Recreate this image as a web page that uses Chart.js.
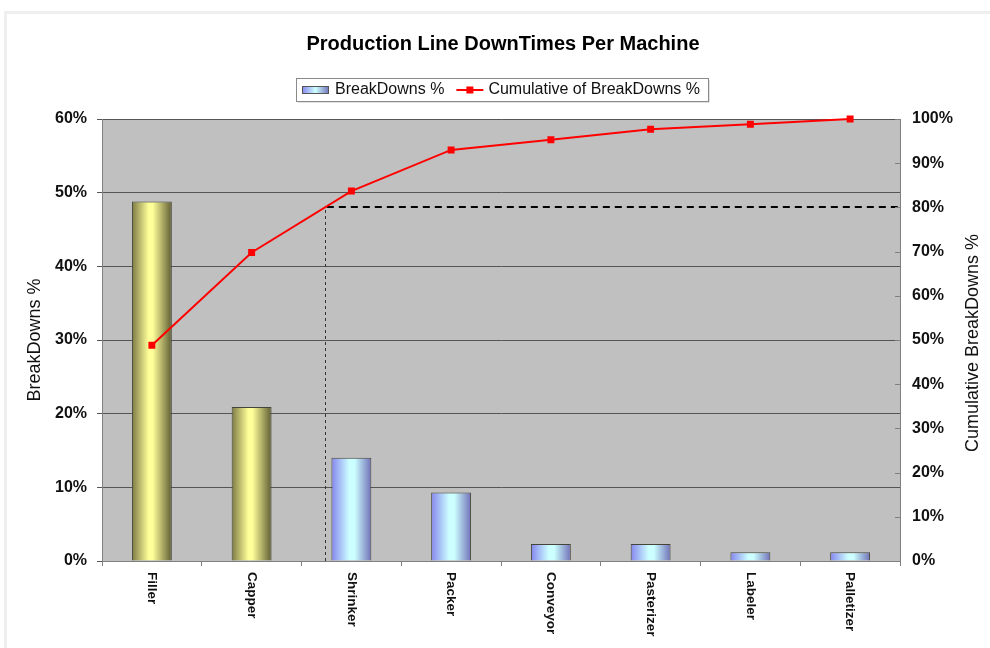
<!DOCTYPE html>
<html>
<head>
<meta charset="utf-8">
<script src="https://cdn.jsdelivr.net/npm/chart.js@4.4.0/dist/chart.umd.min.js"></script>
<style>
  html, body { margin: 0; padding: 0; background: #fff; }
  canvas { display: block; }
</style>
</head>
<body>
<canvas id="pareto" width="990" height="648"></canvas>
<script>
// values
const machines = ["Filler", "Capper", "Shrinker", "Packer", "Conveyor", "Pasterizer", "Labeler", "Palletizer"];
const breakdowns = [48.8, 20.9, 14.0, 9.3, 2.3, 2.3, 1.2, 1.2];
const cumulative = [48.8, 69.8, 83.7, 93.0, 95.3, 97.7, 98.8, 100];
const cutoff = 80;
const leftTicks = [0, 10, 20, 30, 40, 50, 60];
const rightTicks = [0, 10, 20, 30, 40, 50, 60, 70, 80, 90, 100];

const FONT = "'Liberation Sans', Arial, sans-serif";
const BAR_PCT = 0.4;

function barFill(ctx) {
  const chart = ctx.chart;
  if (!chart.chartArea || ctx.type !== "data") return "#ccc";
  const xs = chart.scales.x;
  const cx = xs.getPixelForValue(ctx.dataIndex);
  const half = (xs.getPixelForValue(1) - xs.getPixelForValue(0)) * BAR_PCT / 2;
  const g = chart.ctx.createLinearGradient(cx - half, 0, cx + half, 0);
  if (cumulative[ctx.dataIndex] <= cutoff) {
    g.addColorStop(0, "#7c7944");
    g.addColorStop(0.42, "#ffff99");
    g.addColorStop(0.52, "#ffff99");
    g.addColorStop(1, "#5f5d34");
  } else {
    g.addColorStop(0, "#8585ee");
    g.addColorStop(0.45, "#ccffff");
    g.addColorStop(0.58, "#ccffff");
    g.addColorStop(1, "#7070b8");
  }
  return g;
}

const decor = {
  id: "decor",
  beforeDraw(chart) {
    const { ctx, chartArea: a } = chart;
    ctx.save();
    ctx.fillStyle = "#fff";
    ctx.fillRect(0, 0, chart.width, chart.height);
    ctx.strokeStyle = "#efefef";
    ctx.lineWidth = 3;
    ctx.strokeRect(5.5, 12.5, 1100, 800);
    ctx.fillStyle = "#c0c0c0";
    ctx.fillRect(a.left, a.top, a.right - a.left, a.bottom - a.top);
    ctx.restore();
  },
  beforeDatasetsDraw(chart) {
    // 80% cut-off lines
    const { ctx, chartArea: a, scales } = chart;
    const i = cumulative.findIndex(v => v >= cutoff);
    if (i < 1) return;
    const x0 = scales.x.getPixelForValue(i - 1);
    const x1 = scales.x.getPixelForValue(i);
    const f = (cutoff - cumulative[i - 1]) / (cumulative[i] - cumulative[i - 1]);
    const xc = x0 + f * (x1 - x0);
    const yc = scales.y1.getPixelForValue(cutoff);
    ctx.save();
    ctx.strokeStyle = "#333";
    ctx.lineWidth = 1;
    ctx.setLineDash([3, 3]);
    ctx.beginPath();
    ctx.moveTo(Math.round(xc) + 0.5, a.bottom);
    ctx.lineTo(Math.round(xc) + 0.5, yc);
    ctx.stroke();
    ctx.strokeStyle = "#000";
    ctx.lineWidth = 2;
    ctx.setLineDash([7, 5]);
    ctx.beginPath();
    ctx.moveTo(xc + 2, Math.round(yc));
    ctx.lineTo(a.right, Math.round(yc));
    ctx.stroke();
    ctx.restore();
  },
  afterDraw(chart) {
    const { ctx, chartArea: a, scales } = chart;
    ctx.save();
    ctx.fillStyle = "#000";
    ctx.textBaseline = "middle";

    // title
    ctx.font = "bold 20px " + FONT;
    ctx.textAlign = "center";
    ctx.fillText("Production Line DownTimes Per Machine", 503, 44);

    // legend
    ctx.font = "16px " + FONT;
    const t1 = "BreakDowns %", t2 = "Cumulative of BreakDowns %";
    const w1 = ctx.measureText(t1).width, w2 = ctx.measureText(t2).width;
    const total = 6 + 27 + 6 + w1 + 12 + 27 + 5 + w2 + 8;
    const bx = Math.round(502 - total / 2), by = 78, bh = 23;
    ctx.fillStyle = "#e4e4e4";
    ctx.fillRect(bx + 2, by + 2, total, bh);
    ctx.fillStyle = "#fff";
    ctx.fillRect(bx, by, total, bh);
    ctx.strokeStyle = "#8a8a8a";
    ctx.lineWidth = 1;
    ctx.strokeRect(bx + 0.5, by + 0.5, total, bh);
    let x = bx + 6;
    const cy = by + bh / 2 + 0.5;
    const g = ctx.createLinearGradient(x, 0, x + 27, 0);
    g.addColorStop(0, "#8585ee");
    g.addColorStop(0.5, "#ccffff");
    g.addColorStop(1, "#7070b8");
    ctx.fillStyle = g;
    ctx.fillRect(x, cy - 4, 27, 8);
    ctx.strokeStyle = "#555";
    ctx.strokeRect(x + 0.5, cy - 3.5, 26, 7);
    x += 33;
    ctx.fillStyle = "#111";
    ctx.textAlign = "left";
    ctx.fillText(t1, x, cy);
    x += w1 + 12;
    ctx.strokeStyle = "#ff0000";
    ctx.lineWidth = 2;
    ctx.beginPath();
    ctx.moveTo(x, cy);
    ctx.lineTo(x + 27, cy);
    ctx.stroke();
    ctx.fillStyle = "#ff0000";
    ctx.fillRect(x + 10, cy - 3.5, 7, 7);
    x += 32;
    ctx.fillStyle = "#111";
    ctx.fillText(t2, x, cy);

    // axis titles
    ctx.font = "18px " + FONT;
    ctx.textAlign = "center";
    ctx.save();
    ctx.translate(35, (a.top + a.bottom) / 2);
    ctx.rotate(-Math.PI / 2);
    ctx.fillText("BreakDowns %", 0, 0);
    ctx.restore();
    ctx.save();
    ctx.translate(973, 343);
    ctx.rotate(-Math.PI / 2);
    ctx.fillText("Cumulative BreakDowns %", 0, 0);
    ctx.restore();

    // category labels, rotated clockwise
    ctx.font = "bold 13.5px " + FONT;
    ctx.textAlign = "left";
    machines.forEach((m, i) => {
      const px = scales.x.getPixelForValue(i);
      ctx.save();
      ctx.translate(px, a.bottom + 11);
      ctx.rotate(Math.PI / 2);
      ctx.fillText(m, 0, 0);
      ctx.restore();
    });

    // inward tick marks on the right axis
    ctx.strokeStyle = "#808080";
    ctx.lineWidth = 1;
    rightTicks.forEach(v => {
      const py = Math.round(scales.y1.getPixelForValue(v)) + 0.5;
      ctx.beginPath();
      ctx.moveTo(a.right - 5, py);
      ctx.lineTo(a.right + 1, py);
      ctx.stroke();
    });
    ctx.restore();
  }
};

new Chart(document.getElementById("pareto"), {
  type: "bar",
  data: {
    labels: machines,
    datasets: [
      {
        type: "line",
        label: "Cumulative of BreakDowns %",
        data: cumulative,
        yAxisID: "y1",
        borderColor: "#ff0000",
        backgroundColor: "#ff0000",
        borderWidth: 2,
        pointStyle: "rect",
        pointRadius: 3.5,
        tension: 0,
        clip: false,
        order: 0,
      },
      {
        type: "bar",
        label: "BreakDowns %",
        data: breakdowns,
        yAxisID: "y",
        backgroundColor: barFill,
        borderColor: "#44443a",
        borderWidth: 1,
        barPercentage: BAR_PCT,
        categoryPercentage: 1,
        order: 1,
      },
    ],
  },
  options: {
    responsive: false,
    devicePixelRatio: 1,
    animation: false,
    layout: { padding: { top: 119, left: 0, right: 0, bottom: 0 } },
    plugins: {
      legend: { display: false },
      title: { display: false },
      tooltip: { enabled: false },
    },
    scales: {
      x: {
        grid: { offset: true, drawOnChartArea: false, tickLength: 5, color: "#808080" },
        border: { color: "#808080" },
        ticks: { display: false },
        afterFit: s => { s.height = 87; },
      },
      y: {
        position: "left",
        min: 0,
        max: 60,
        afterBuildTicks: s => { s.ticks = leftTicks.map(v => ({ value: v })); },
        ticks: {
          callback: v => v + "%",
          font: { family: FONT, size: 16, weight: "bold" },
          color: "#111",
          padding: 10,
        },
        grid: { color: "#555", tickLength: 5 },
        border: { color: "#808080" },
        afterFit: s => { s.width = 102; },
      },
      y1: {
        position: "right",
        min: 0,
        max: 100,
        afterBuildTicks: s => { s.ticks = rightTicks.map(v => ({ value: v })); },
        ticks: {
          callback: v => v + "%",
          font: { family: FONT, size: 16, weight: "bold" },
          color: "#111",
          padding: 12,
        },
        grid: { drawOnChartArea: false, drawTicks: false },
        border: { color: "#808080" },
        afterFit: s => { s.width = 90; },
      },
    },
  },
  plugins: [decor],
});
</script>
</body>
</html>
